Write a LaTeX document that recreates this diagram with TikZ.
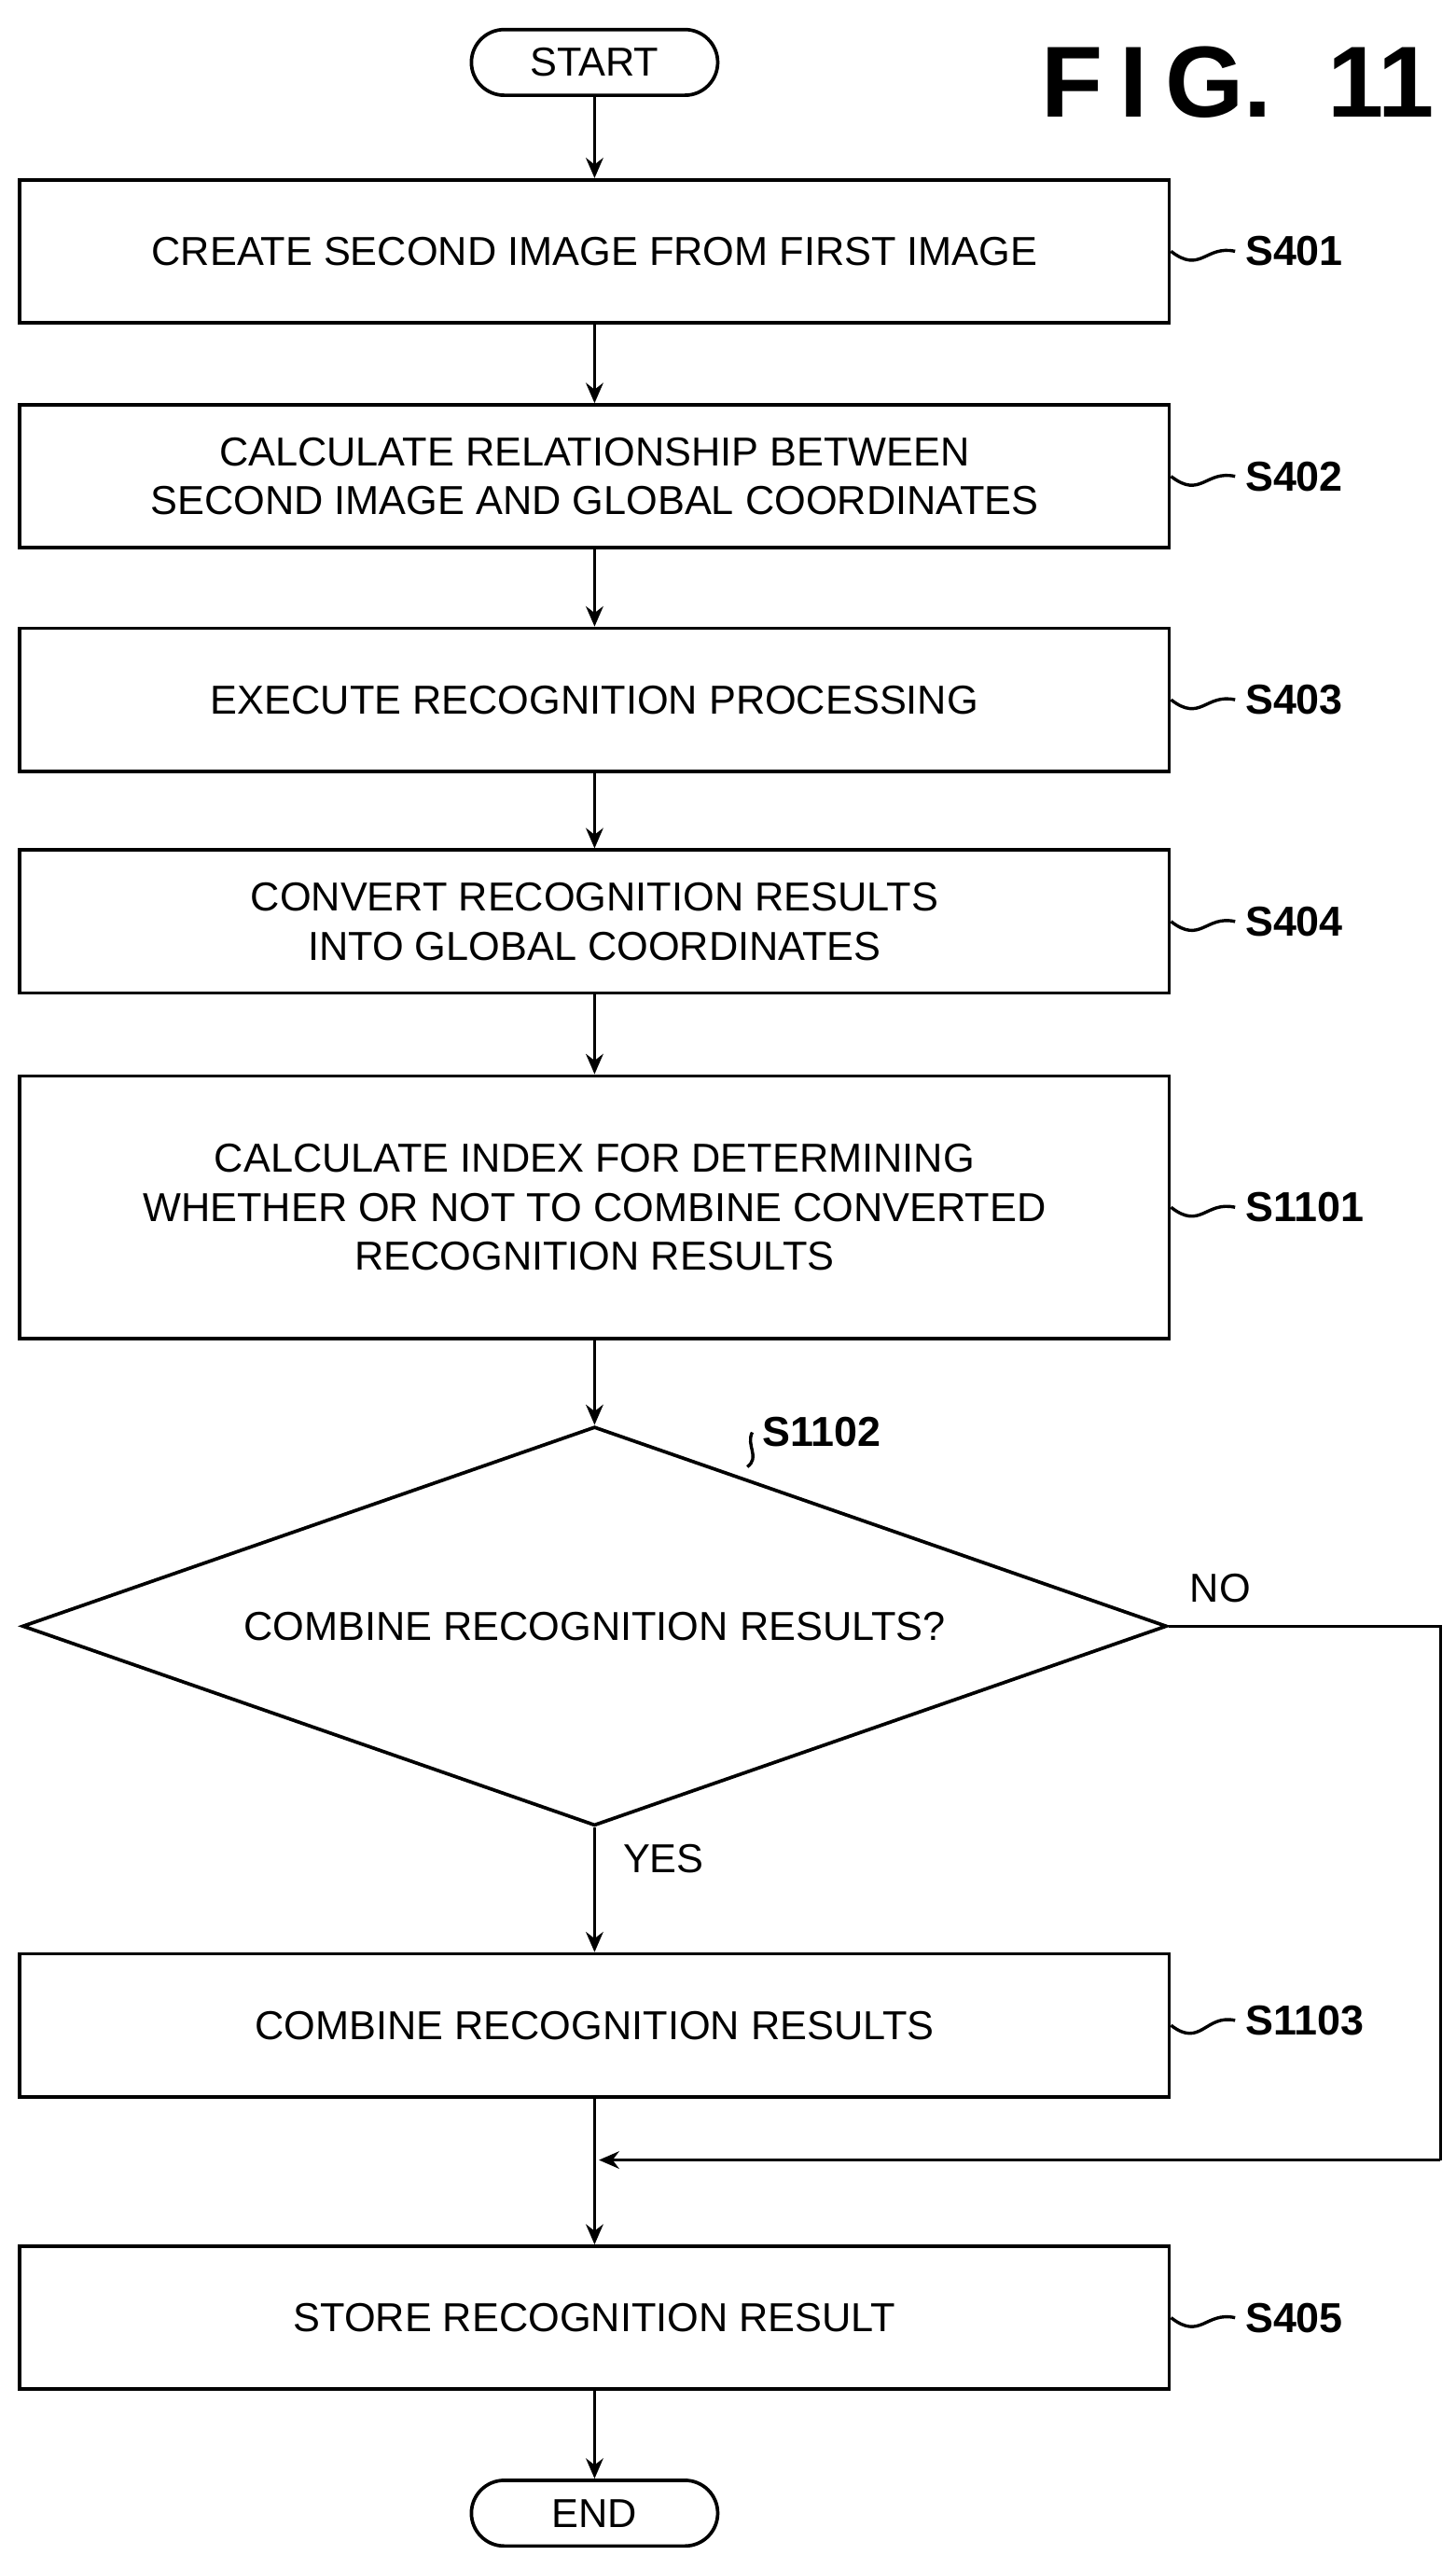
\documentclass[tikz,border=0pt]{standalone}
\usepackage{fontspec}
\setmainfont{Liberation Sans}
\usepackage{tikz}
\usetikzlibrary{shapes.geometric,arrows.meta}

\begin{document}
\begin{tikzpicture}[x=0.02cm,y=-0.02cm,
    box/.style={draw,line width=1.2pt,minimum width=14cm,minimum height=1.74cm,
      align=center,font=\fontsize{14}{17}\selectfont},
    term/.style={draw,line width=1.2pt,rounded corners=0.4cm,minimum width=3cm,
      minimum height=0.8cm,font=\fontsize{14}{15}\selectfont},
    steplabel/.style={font=\bfseries\fontsize{14.5}{16}\selectfont,anchor=west},
    flow/.style={line width=1.1pt,-{Stealth[length=7pt,width=6pt]}},
    tilde/.style={line width=1.1pt}]
      \useasboundingbox (0,0) rectangle (886,1564);
      \node[term] (start) at (362,38) {START};
      \node[box] (s401) at (362,153) {CREATE SECOND IMAGE FROM FIRST IMAGE};
      \node[box] (s402) at (362,290) {CALCULATE RELATIONSHIP BETWEEN\\SECOND IMAGE AND GLOBAL COORDINATES};
      \node[box] (s403) at (362,426) {EXECUTE RECOGNITION PROCESSING};
      \node[box] (s404) at (362,561) {CONVERT RECOGNITION RESULTS\\INTO GLOBAL COORDINATES};
      \node[box,minimum height=3.2cm] (s1101) at (362,735) {CALCULATE INDEX FOR DETERMINING\\WHETHER OR NOT TO COMBINE CONVERTED\\RECOGNITION RESULTS};
      \node[draw,line width=1.2pt,diamond,aspect=2.87,inner sep=0pt,minimum width=13.94cm,minimum height=4.86cm,
        font=\fontsize{14}{15}\selectfont] (s1102) at (362,990) {COMBINE RECOGNITION RESULTS?};
      \node[box] (s1103) at (362,1233) {COMBINE RECOGNITION RESULTS};
      \node[box] (s405) at (362,1411) {STORE RECOGNITION RESULT};
      \node[term] (end) at (362,1530) {END};
      \coordinate (merge) at (362,1315);
      \coordinate (nocorner) at (877,990);
      \coordinate (nobottom) at (877,1315);

      % step labels
      \node[steplabel] (l401) at (752,153) {S401};
      \node[steplabel] (l402) at (752,290) {S402};
      \node[steplabel] (l403) at (752,426) {S403};
      \node[steplabel] (l404) at (752,561) {S404};
      \node[steplabel] (l1101) at (752,735) {S1101};
      \node[steplabel] (l1103) at (752,1230) {S1103};
      \node[steplabel] (l405) at (752,1411) {S405};
      \node[steplabel] (l1102) at (458,872) {S1102};
      \foreach \b/\l in {s401/l401,s402/l402,s403/l403,s404/l404,s1101/l1101,s1103/l1103,s405/l405}
        \draw[tilde] (\b.east) .. controls +(18,14) and +(-18,-4) .. (\l.west);
      \draw[tilde] (455,893) .. controls +(8,-6) and +(-4,8) .. (l1102.west);
      \node[font=\bfseries\fontsize{35}{36}\selectfont,anchor=west] (fig) at (628,50) {F\,I\,G.\ \ 11};

      \draw[flow] (start) -- (s401);
      \draw[flow] (s401) -- (s402);
      \draw[flow] (s402) -- (s403);
      \draw[flow] (s403) -- (s404);
      \draw[flow] (s404) -- (s1101);
      \draw[flow] (s1101) -- (s1102);
      \draw[flow] (s1102.south) -- node[right=6pt,pos=0.25,font=\fontsize{14}{15}\selectfont] {YES} (s1103);
      \draw[line width=1.1pt] (s1103) -- (merge);
      \draw[flow] (merge) -- (s405);
      \draw[flow] (s405) -- (end);
      \draw[line width=1.1pt] (s1102.east) -- (nocorner) -- (nobottom);
      \draw[flow] (nobottom) -- ([xshift=1.5pt]merge);
      \node[font=\fontsize{14}{15}\selectfont] (no) at (743,967) {NO};
\end{tikzpicture}
\end{document}
